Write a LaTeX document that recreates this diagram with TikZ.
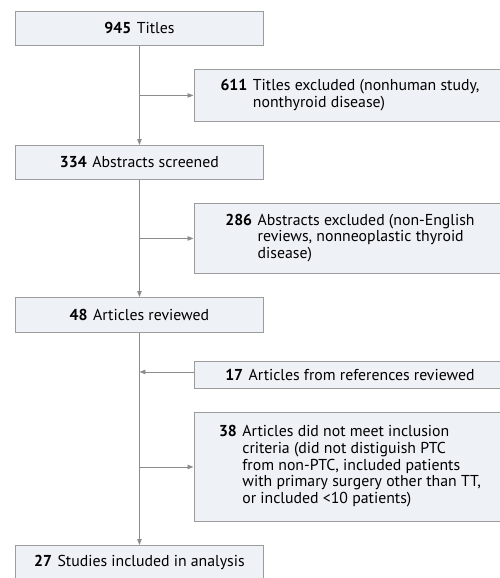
\documentclass[tikz,border=0pt]{standalone}
\usepackage{fontspec}
\setmainfont{PT Sans}
\usetikzlibrary{arrows.meta}
\definecolor{boxfill}{HTML}{EEF1F5}
\definecolor{boxline}{HTML}{9C9C9C}
\definecolor{connline}{HTML}{8C8C8C}
\tikzset{
  base/.style={rectangle, draw=boxline, line width=0.9pt, fill=boxfill, anchor=north west, inner sep=0pt,
    font=\fontsize{15.8}{16.7}\selectfont},
  leftbox/.style={base, minimum width=248pt},
  rightbox/.style={base, minimum width=312pt},
  conn/.style={draw=connline, line width=0.9pt, -{Triangle[length=6pt,width=4.5pt]}, color=connline},
}
\newcommand{\hang}[2]{\begin{tabular}{@{}l@{\hspace{5.5pt}}l@{}}\textbf{#1} & #2\end{tabular}}
\newcommand{\numtxt}[2]{\textbf{#1}\hspace{5.5pt}#2}
\begin{document}
\begin{tikzpicture}[x=1pt,y=-1pt]
\useasboundingbox (0,0) rectangle (499,578);
\node[leftbox, minimum height=34pt] (b1) at (15,11) {\numtxt{945}{Titles}};
\node[rightbox, minimum height=52pt] (r1) at (193.5,69) {\hang{611}{Titles excluded (nonhuman study,\\ & nonthyroid disease)}};
\node[leftbox, minimum height=34pt] (b2) at (15,145) {\numtxt{334}{Abstracts screened}};
\node[rightbox, minimum height=70pt] (r2) at (193.5,203) {\hang{286}{Abstracts excluded (non-English\\ & reviews, nonneoplastic thyroid\\ & disease)}};
\node[leftbox, minimum height=35pt] (b3) at (15,297) {\numtxt{48}{Articles reviewed}};
\node[rightbox, minimum height=27pt] (r3) at (193.5,361) {\numtxt{17}{Articles from references reviewed}};
\node[rightbox, minimum height=109pt] (r4) at (193.5,412) {\hang{38}{Articles did not meet inclusion\\ & criteria (did not distiguish PTC\\ & from non-PTC, included patients\\ & with primary surgery other than TT,\\ & or included <10 patients)}};
\node[leftbox, minimum height=34pt] (b4) at (15,545) {\numtxt{27}{Studies included in analysis}};
\draw[conn] (b1) -- (b2);
\draw[conn] (b2) -- (b3);
\draw[conn] (b3) -- (b4);
\draw[conn] (r1.west -| b1) -- (r1.west);
\draw[conn] (r2.west -| b1) -- (r2.west);
\draw[conn] ([yshift=3pt]r3.west) -- ([yshift=3pt]r3.west -| b1);
\draw[conn] (r4.west -| b1) -- (r4.west);
\end{tikzpicture}
\end{document}
